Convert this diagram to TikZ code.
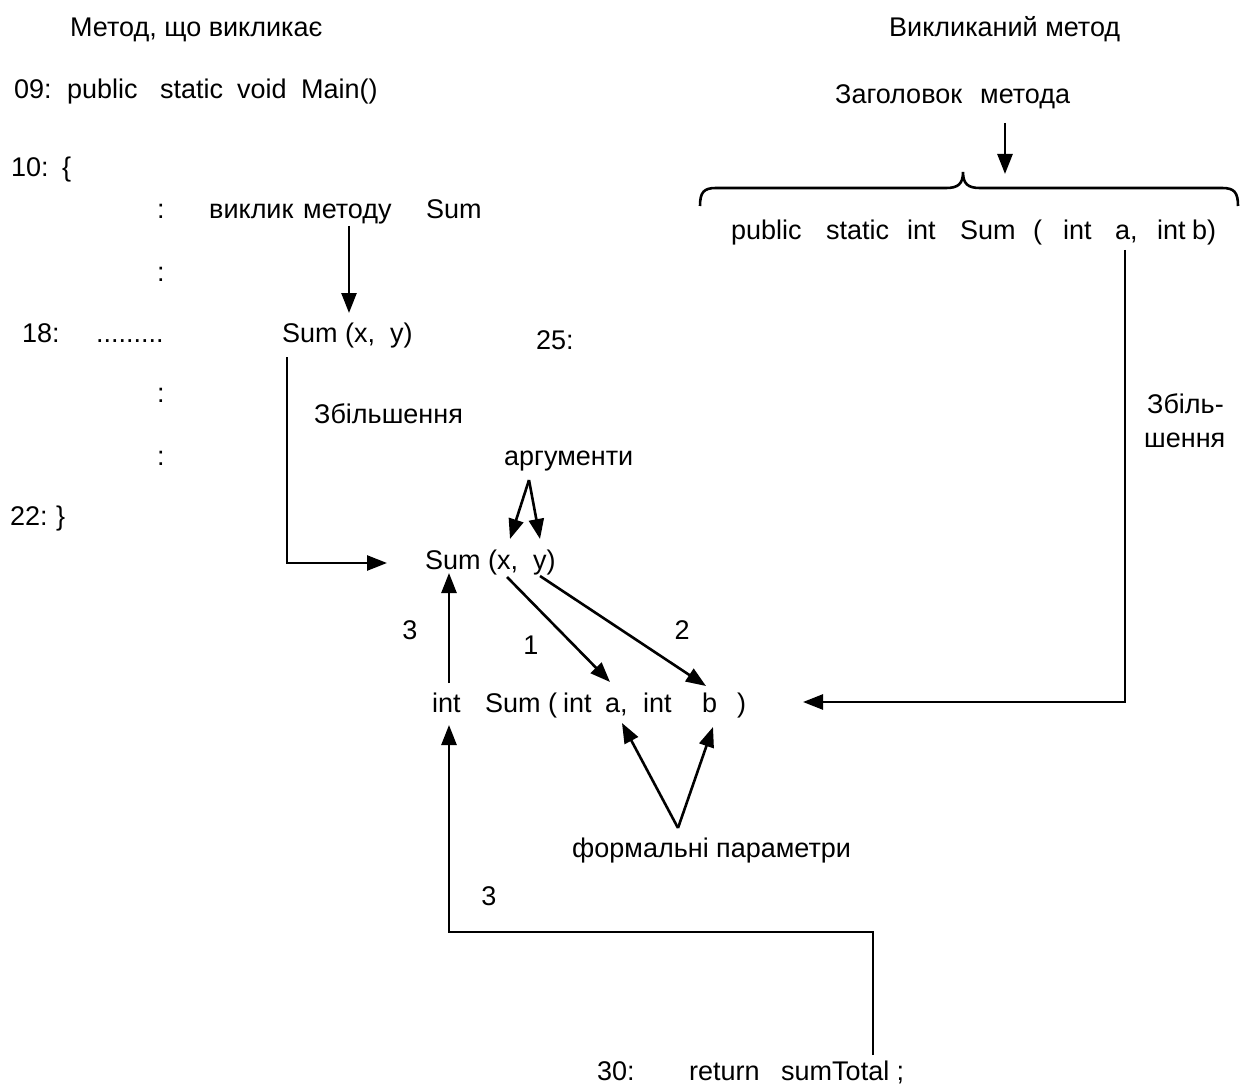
\documentclass[tikz,border=0pt]{standalone}
\usepackage{fontspec}
\setmainfont{Liberation Sans}
\usetikzlibrary{arrows.meta}

\tikzset{
  txt/.style={anchor=base west, inner sep=0pt, font=\fontsize{27}{32}\selectfont},
  num/.style={anchor=base, inner sep=0pt, font=\fontsize{27}{32}\selectfont},
  wire/.style={line width=2.6pt, line join=miter},
  arrow/.style={wire, -{Triangle[length=20pt,width=15pt]}},
  brace/.style={line width=2.6pt},
}

\begin{document}
\begin{tikzpicture}[x=1pt, y=-1pt]
\useasboundingbox (0,0) rectangle (1244,1091);

% --- column headings
\node[txt] (callerHead) at (70,37) {Метод, що викликає};
\node[txt] (calleeHead) at (889,37) {Викликаний метод};
\node[txt] (hdrA) at (835,104) {Заголовок};
\node[txt] (hdrB) at (980,104) {метода};

% --- calling method listing
\node[txt] (m1) at (14,99) {09:};
\node[txt] (m2) at (67,99) {public};
\node[txt] (m3) at (160,99) {static};
\node[txt] (m4) at (237,99) {void};
\node[txt] (m5) at (301,99) {Main()};

\node[txt] (o1) at (11,177) {10:};
\node[txt] (o2) at (62,177) {\{};

\node[txt] (c1) at (157,219) {:};
\node[txt] (c2) at (209,219) {виклик};
\node[txt] (c3) at (303,219) {методу};
\node[txt] (c4) at (426,219) {Sum};

\node[txt] (d1) at (157,281) {:};

\node[txt] (s1) at (22,342) {18:};
\node[txt] (s2) at (96,342) {.........};
\node[txt] (call) at (282,342) {Sum (x,\ \ y)};
\node[txt] (n25) at (536,349) {25:};

\node[txt] (d2) at (157,402) {:};
\node[txt] (zoomL) at (314,423) {Збільшення};
\node[txt] (d3) at (157,465) {:};
\node[txt] (args) at (504,465) {аргументи};

\node[txt] (e1) at (10,525) {22:};
\node[txt] (e2) at (56,525) {\}};

% --- magnified call
\node[txt] (callBig) at (425,569) {Sum (x,\ \ y)};
\node[num] (k3a) at (410,639) {3};
\node[num] (k1) at (531,654) {1};
\node[num] (k2) at (682,639) {2};

% --- magnified header
\node[txt] (h1) at (432,712) {int};
\node[txt] (h2) at (485,712) {Sum};
\node[txt] (h3) at (548,712) {(};
\node[txt] (h4) at (563,712) {int};
\node[txt] (h5) at (605,712) {a,};
\node[txt] (h6) at (643,712) {int};
\node[txt] (h7) at (702,712) {b};
\node[txt] (h8) at (737,712) {)};

\node[txt] (formal) at (572,857) {формальні параметри};
\node[num] (k3b) at (489,905) {3};

\node[txt] (r1) at (597,1080) {30:};
\node[txt] (r2) at (689,1080) {return};
\node[txt] (r3) at (781,1080) {sumTotal ;};

% --- called method header
\node[txt] (p1) at (731,240) {public};
\node[txt] (p2) at (826,240) {static};
\node[txt] (p3) at (907,240) {int};
\node[txt] (p4) at (960,240) {Sum};
\node[txt] (p5) at (1033,240) {(};
\node[txt] (p6) at (1063,240) {int};
\node[txt] (p7) at (1115,240) {a,};
\node[txt] (p8) at (1157,240) {int};
\node[txt] (p9) at (1192,240) {b)};

\node[txt] (zoomR1) at (1147,413) {Збіль-};
\node[txt] (zoomR2) at (1144,447) {шення};

% --- brace over the header
\draw[brace] (700,206) .. controls (700,192) and (704,188) .. (716,188)
  -- (946,188) .. controls (958,188) and (963,184) .. (963,172)
  .. controls (963,184) and (968,188) .. (980,188)
  -- (1222,188) .. controls (1234,188) and (1238,192) .. (1238,206);

% --- connector end points
\coordinate (hdrArrTop) at (1005,123);
\coordinate (hdrArrTip) at (1005,174);
\coordinate (callArrTop) at (349,226);
\coordinate (callArrTip) at (349,313);
\coordinate (leftTop) at (287,357);
\coordinate (leftCorner) at (287,563);
\coordinate (leftTip) at (387,563);
\coordinate (rightTop) at (1125,250);
\coordinate (rightCorner) at (1125,702);
\coordinate (rightTip) at (803,702);
\coordinate (argApex) at (529,480);
\coordinate (argX) at (510,539);
\coordinate (argY) at (540,539);
\coordinate (xFrom) at (507,577);
\coordinate (aTo) at (610,682);
\coordinate (yFrom) at (540,576);
\coordinate (bTo) at (706,686);
\coordinate (retFrom) at (449,683);
\coordinate (retTo) at (449,573);
\coordinate (formApex) at (678,828);
\coordinate (formA) at (622,723);
\coordinate (formB) at (713,727);
\coordinate (sumUp) at (873,1055);
\coordinate (sumCorner) at (873,932);
\coordinate (intCorner) at (449,932);
\coordinate (intTip) at (449,725);

% --- connectors
\draw[arrow] (hdrArrTop) -- (hdrArrTip);
\draw[arrow] (callArrTop) -- (callArrTip);
\draw[arrow] (leftTop) -- (leftCorner) -- (leftTip);
\draw[arrow] (rightTop) -- (rightCorner) -- (rightTip);
\draw[arrow] (argApex) -- (argX);
\draw[arrow] (argApex) -- (argY);
\draw[arrow] (xFrom) -- (aTo);
\draw[arrow] (yFrom) -- (bTo);
\draw[arrow] (retFrom) -- (retTo);
\draw[arrow] (formApex) -- (formA);
\draw[arrow] (formApex) -- (formB);
\draw[arrow] (sumUp) -- (sumCorner) -- (intCorner) -- (intTip);
\end{tikzpicture}
\end{document}
